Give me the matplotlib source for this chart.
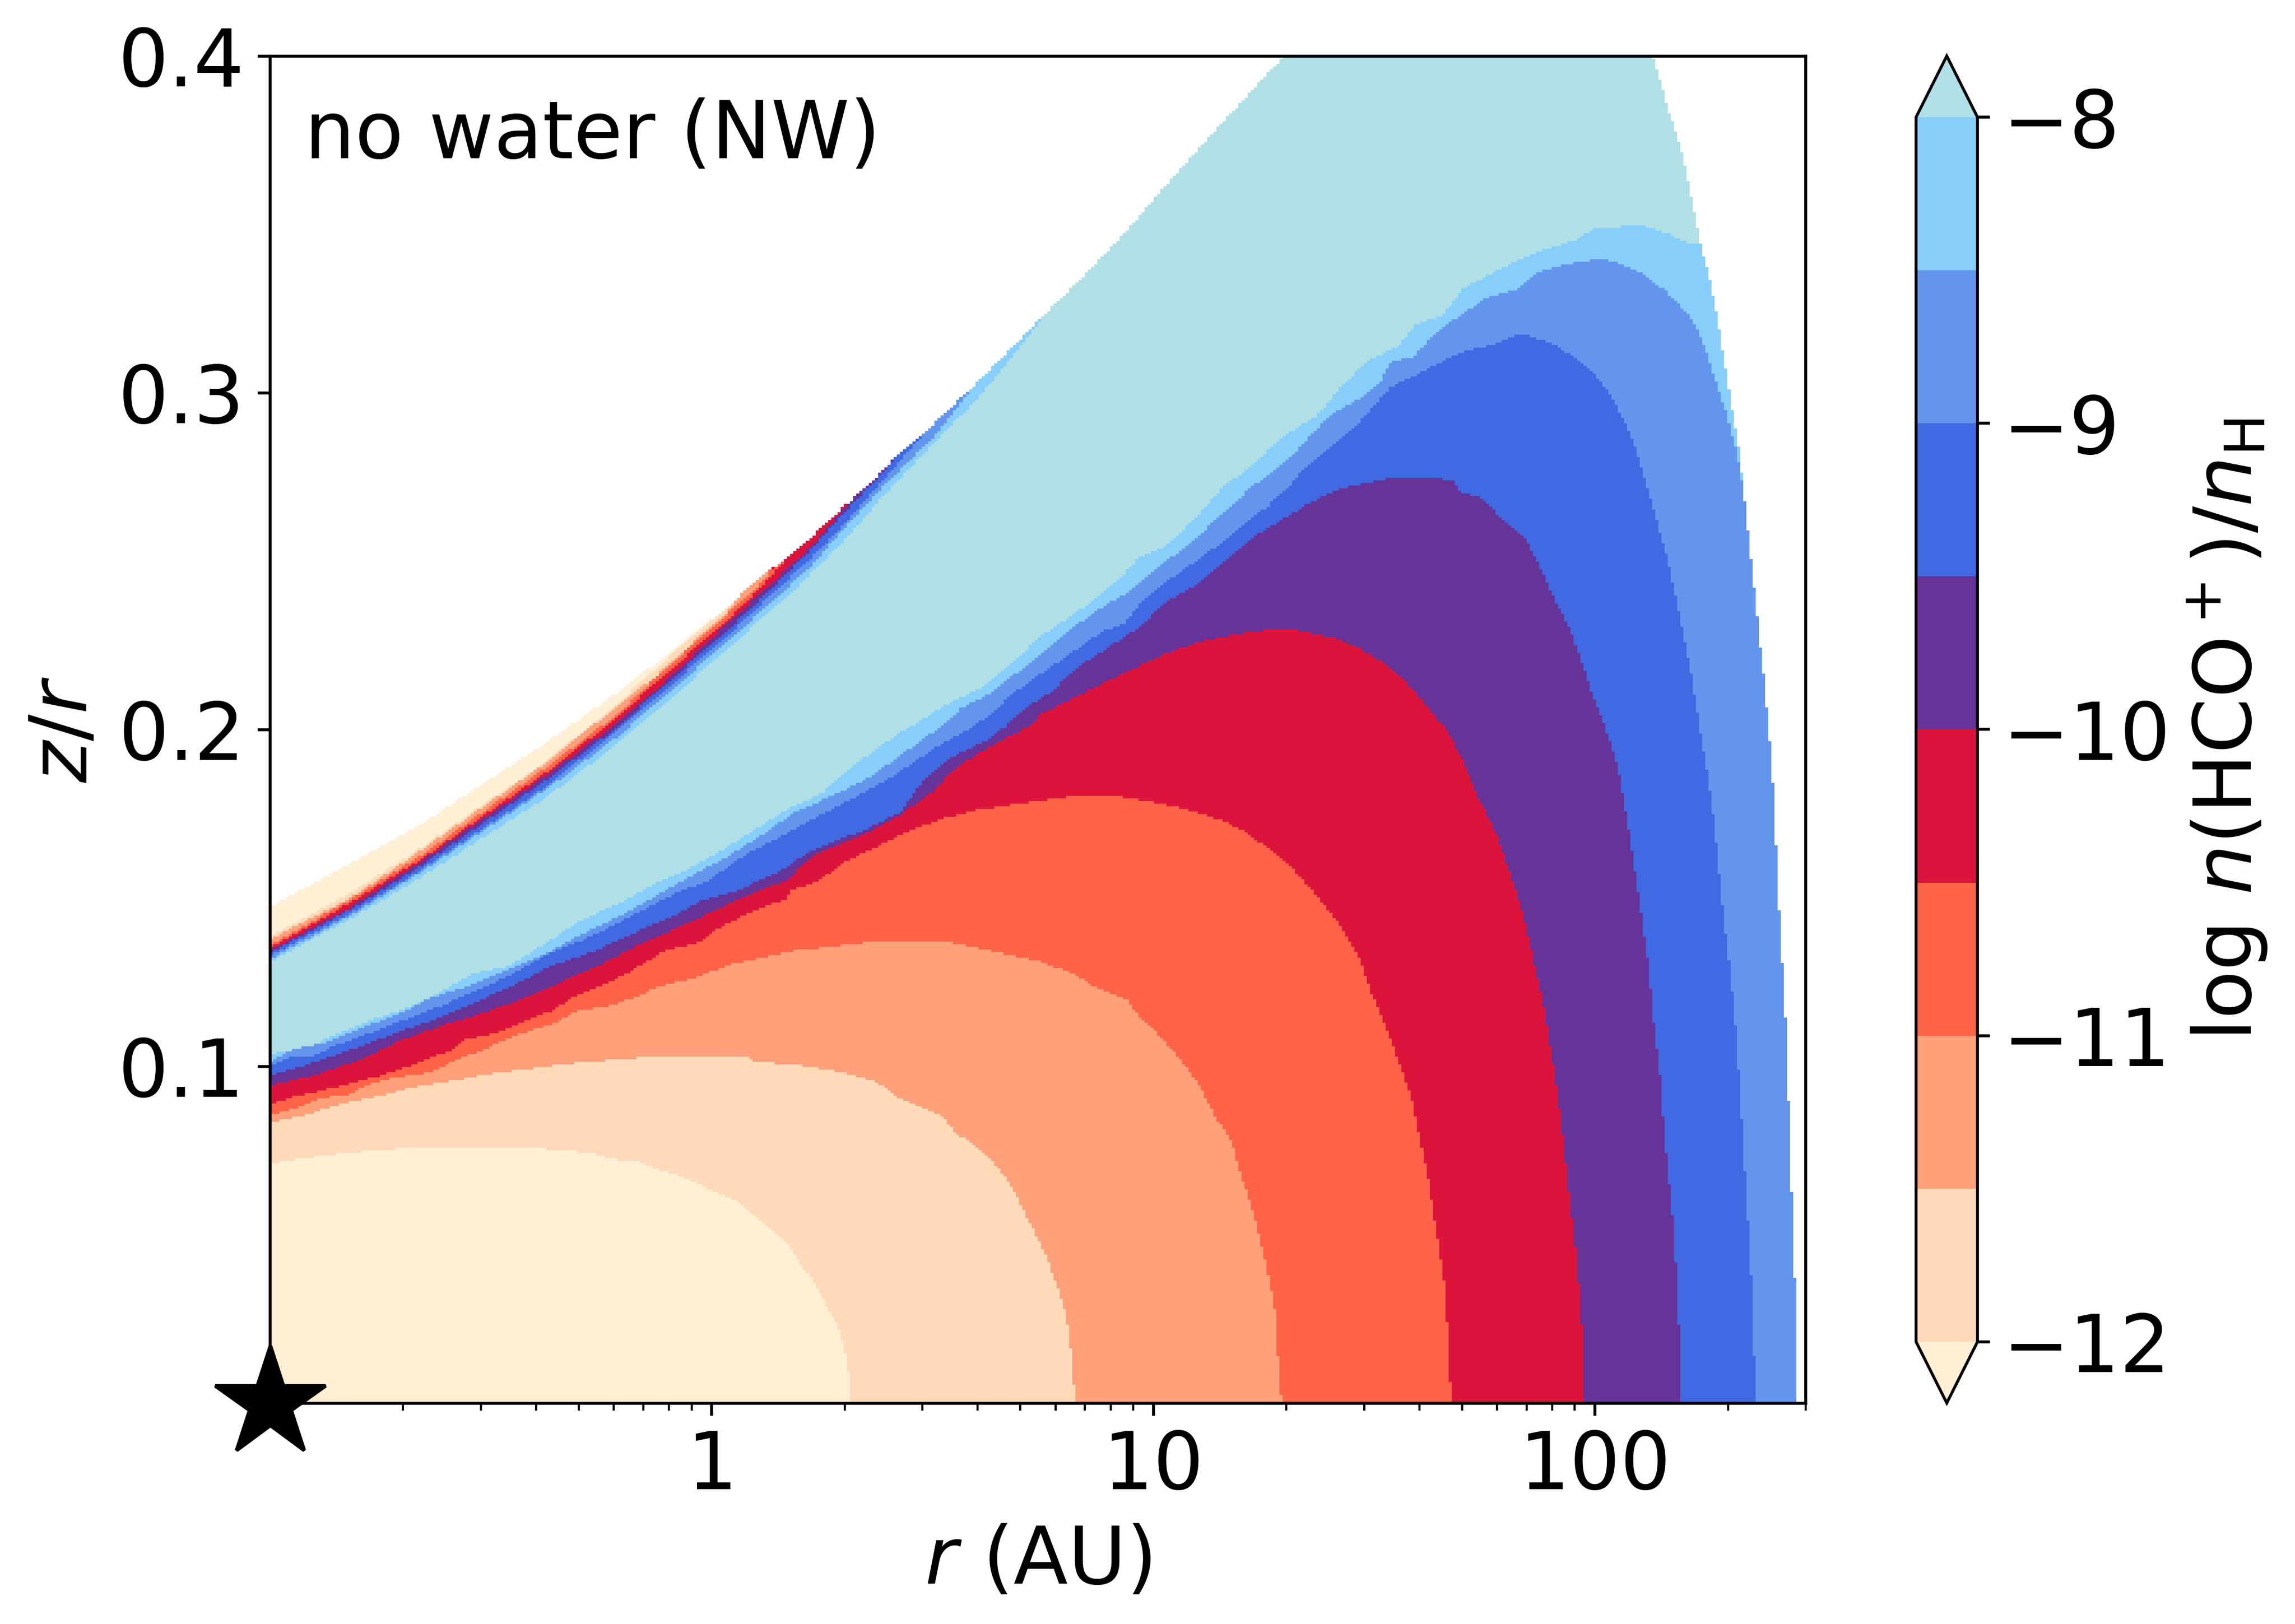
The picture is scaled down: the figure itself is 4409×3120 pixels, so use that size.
import numpy as np
import matplotlib
matplotlib.use("Agg")
import matplotlib.pyplot as plt
from matplotlib.cm import ScalarMappable
from matplotlib.colors import BoundaryNorm, ListedColormap
from matplotlib.path import Path
from matplotlib.ticker import LogLocator, NullFormatter

# contour boundaries: log10(r / AU) and z/r
LEVELS = [-12, -11.5, -11, -10.5, -10, -9.5, -9, -8.5, -8]
TICKS = [-12, -11, -10, -9, -8]
COLORS = ["peachpuff", "lightsalmon", "tomato", "crimson", "rebeccapurple",
          "royalblue", "cornflowerblue", "lightskyblue"]
COLOR_UNDER = "papayawhip"
COLOR_OVER = "powderblue"

# value given to each band
V_PAPAYA, V_PEACH, V_SALMON, V_TOMATO, V_CRIMSON = -12.5, -11.75, -11.25, -10.75, -10.25
V_PURPLE, V_ROYAL, V_CORN, V_SKY, V_POWDER = -9.75, -9.25, -8.75, -8.25, -7.5

XTICKS = [1, 10, 100]
XTICKLABELS = ["1", "10", "100"]
YTICKS = [0.1, 0.2, 0.3, 0.4]
YTICKLABELS = ["0.1", "0.2", "0.3", "0.4"]

# outline of the whole disc
TOP_R = [-1, -0.828, -0.659, -0.3745, -0.2057, -0.131, 0.0377, 0.079, 0.222, 0.293, 0.3125, 0.391,
         0.411, 0.4617, 0.4814, 0.58, 0.662, 0.756, 0.837, 0.905, 0.972, 1.027, 1.087, 1.19, 1.295]
TOP_Z = [0.1473, 0.1594, 0.1717, 0.1962, 0.2117, 0.2192, 0.2367, 0.2416, 0.2568, 0.2656, 0.2676, 0.2772,
         0.2801, 0.2860, 0.2880, 0.3003, 0.3111, 0.3235, 0.3338, 0.3433, 0.3530, 0.3615, 0.3702, 0.3850, 0.4]
EDGE_R = [2.132, 2.162, 2.200, 2.216, 2.230, 2.239, 2.257, 2.277, 2.297, 2.311, 2.328, 2.338, 2.349, 2.362,
          2.372, 2.385, 2.392, 2.399, 2.407, 2.412, 2.420, 2.429, 2.435, 2.441, 2.448, 2.455, 2.455]
EDGE_Z = [0.4, 0.386, 0.3702, 0.3594, 0.3507, 0.3442, 0.3355, 0.3225, 0.3062, 0.2942, 0.2812, 0.2682, 0.2552, 0.2400,
          0.2270, 0.2129, 0.2001, 0.1924, 0.1745, 0.1578, 0.1386, 0.1206, 0.1014, 0.0783, 0.0527, 0.0270, 0.0]

# lower boundaries, outermost first
SKY_R = [-1, -0.917, -0.854, -0.770, -0.707, -0.633, -0.538, -0.465, -0.391, -0.297, -0.202, -0.128, -0.044, 0.030,
         0.114, 0.177, 0.251, 0.283, 0.347, 0.420, 0.490, 0.533, 0.607, 0.675, 0.749, 0.824, 0.912, 0.966, 1.027,
         1.087, 1.155, 1.229, 1.297, 1.371, 1.419, 1.479, 1.554, 1.594, 1.655, 1.702, 1.784, 1.824, 1.885, 1.953,
         2.000, 2.108, 2.162, 2.209, 2.239]
SKY_Z = [0.1038, 0.1052, 0.1094, 0.1138, 0.1166, 0.1207, 0.1277, 0.1297, 0.1352, 0.1432, 0.1487, 0.1542, 0.1591, 0.1646,
         0.1715, 0.1767, 0.1811, 0.1855, 0.1918, 0.1985, 0.2040, 0.2074, 0.2123, 0.2194, 0.2281, 0.2346, 0.2433, 0.2509, 0.2546,
         0.2617, 0.2715, 0.2791, 0.2872, 0.2932, 0.3008, 0.3089, 0.3138, 0.3203, 0.3230, 0.3311, 0.3366, 0.3393, 0.3425, 0.3452,
         0.3490, 0.3496, 0.3474, 0.3447, 0.3442]

CORN_R = [-1, -0.949, -0.870, -0.780, -0.696, -0.644, -0.549, -0.470, -0.365, -0.297, -0.202, -0.123, -0.060, 0.030,
          0.119, 0.182, 0.251, 0.345, 0.441, 0.520, 0.567, 0.628, 0.695, 0.797, 0.864, 0.945, 1.027, 1.087, 1.162,
          1.229, 1.310, 1.398, 1.473, 1.513, 1.540, 1.588, 1.642, 1.689, 1.757, 1.824, 1.865, 1.939, 2.013, 2.047,
          2.108, 2.162, 2.216, 2.243, 2.270, 2.297, 2.318, 2.334]
CORN_Z = [0.1014, 0.1049, 0.1073, 0.1121, 0.1163, 0.1201, 0.1239, 0.1283, 0.1342, 0.1390, 0.1449, 0.1508, 0.1556, 0.1618,
          0.1691, 0.1749, 0.1791, 0.1847, 0.1936, 0.2010, 0.2065, 0.2107, 0.2172, 0.2281, 0.2346, 0.2411, 0.2498, 0.2557, 0.2650,
          0.2725, 0.2807, 0.2932, 0.2986, 0.3029, 0.3094, 0.3105, 0.3181, 0.3225, 0.3284, 0.3306, 0.3355, 0.3382, 0.3398, 0.3387,
          0.3355, 0.3300, 0.3225, 0.3159, 0.3051, 0.2942, 0.2834, 0.2726]

ROYAL_R = [-1, -0.959, -0.907, -0.844, -0.760, -0.675, -0.612, -0.528, -0.454, -0.370, -0.286, -0.191, -0.086, -0.012,
           0.082, 0.151, 0.240, 0.324, 0.392, 0.504, 0.587, 0.639, 0.682, 0.729, 0.837, 0.885, 0.932, 0.972, 1.027,
           1.094, 1.162, 1.202, 1.256, 1.310, 1.337, 1.378, 1.459, 1.486, 1.540, 1.594, 1.655, 1.689, 1.784, 1.831,
           1.899, 1.946, 2.000, 2.034, 2.068, 2.095, 2.129, 2.162, 2.189, 2.216, 2.238, 2.255, 2.272, 2.288, 2.305,
           2.317, 2.328, 2.339, 2.350, 2.358, 2.363]
ROYAL_Z = [0.1000, 0.1025, 0.1031, 0.1066, 0.1107, 0.1149, 0.1180, 0.1228, 0.1273, 0.1335, 0.1377, 0.1439, 0.1511, 0.1549,
           0.1632, 0.1677, 0.1742, 0.1798, 0.1846, 0.1944, 0.2004, 0.2055, 0.2107, 0.2151, 0.2248, 0.2292, 0.2313, 0.2378, 0.2438,
           0.2498, 0.2563, 0.2606, 0.2660, 0.2725, 0.2769, 0.2812, 0.2899, 0.2942, 0.3018, 0.3051, 0.3094, 0.3116, 0.3149, 0.3176,
           0.3149, 0.3111, 0.3051, 0.2997, 0.2910, 0.2823, 0.2671, 0.2519, 0.2357, 0.2183, 0.2001, 0.1873, 0.1706, 0.1488, 0.1296,
           0.1129, 0.0924, 0.0680, 0.0462, 0.0232, 0.0]

PURPLE_R = [-1, -0.917, -0.796, -0.707, -0.622, -0.517, -0.444, -0.360, -0.265, -0.160, -0.097, -0.023, 0.061, 0.156,
            0.235, 0.345, 0.429, 0.477, 0.546, 0.620, 0.661, 0.722, 0.776, 0.824, 0.891, 0.966, 1.027, 1.101, 1.168,
            1.229, 1.283, 1.351, 1.425, 1.540, 1.675, 1.696, 1.743, 1.797, 1.844, 1.878, 1.912, 1.939, 1.966, 1.993,
            2.024, 2.052, 2.069, 2.085, 2.102, 2.119, 2.133, 2.147, 2.159, 2.176, 2.187, 2.196]
PURPLE_Z = [0.0973, 0.1004, 0.1059, 0.1104, 0.1142, 0.1201, 0.1245, 0.1301, 0.1342, 0.1404, 0.1439, 0.1491, 0.1522, 0.1580,
            0.1646, 0.1701, 0.1756, 0.1846, 0.1918, 0.1967, 0.2004, 0.2074, 0.2118, 0.2183, 0.2237, 0.2302, 0.2378, 0.2433, 0.2509,
            0.2574, 0.2617, 0.2671, 0.2715, 0.2747, 0.2742, 0.2704, 0.2687, 0.2617, 0.2563, 0.2476, 0.2378, 0.2313, 0.2216, 0.2107,
            0.2001, 0.1886, 0.1757, 0.1629, 0.1475, 0.1322, 0.1129, 0.0975, 0.0770, 0.0552, 0.0334, 0.0]

CRIMSON_R = [-1, -0.946, -0.895, -0.831, -0.786, -0.707, -0.602, -0.507, -0.423, -0.339, -0.254, -0.160, -0.070, 0.003,
             0.082, 0.166, 0.240, 0.366, 0.429, 0.503, 0.536, 0.594, 0.716, 0.749, 0.824, 0.891, 0.959, 1.027, 1.108,
             1.202, 1.270, 1.331, 1.419, 1.473, 1.527, 1.581, 1.621, 1.663, 1.702, 1.736, 1.776, 1.810, 1.838, 1.860,
             1.883, 1.900, 1.917, 1.930, 1.941, 1.956, 1.964, 1.971, 1.973]
CRIMSON_Z = [0.0943, 0.0959, 0.0976, 0.1004, 0.1025, 0.1076, 0.1125, 0.1163, 0.1204, 0.1252, 0.1301, 0.1363, 0.1415, 0.1459,
             0.1508, 0.1549, 0.1632, 0.1701, 0.1749, 0.1815, 0.1865, 0.1922, 0.2009, 0.2047, 0.2096, 0.2140, 0.2183, 0.2226, 0.2261,
             0.2286, 0.2297, 0.2294, 0.2270, 0.2237, 0.2194, 0.2129, 0.2064, 0.2001, 0.1905, 0.1796, 0.1693, 0.1565, 0.1450, 0.1322,
             0.1193, 0.1052, 0.0911, 0.0770, 0.0629, 0.0462, 0.0334, 0.0206, 0.0]

TOMATO_R = [-1, -0.946, -0.895, -0.850, -0.799, -0.748, -0.710, -0.671, -0.633, -0.588, -0.560, -0.486, -0.444, -0.360,
            -0.323, -0.254, -0.196, -0.144, -0.107, -0.023, 0.003, 0.066, 0.135, 0.166, 0.182, 0.240, 0.303, 0.387,
            0.429, 0.514, 0.598, 0.744, 0.812, 0.925, 0.992, 1.071, 1.150, 1.195, 1.252, 1.308, 1.364, 1.421, 1.466,
            1.494, 1.528, 1.556, 1.584, 1.606, 1.623, 1.640, 1.657, 1.666, 1.674]
TOMATO_Z = [0.0887, 0.0911, 0.0925, 0.0938, 0.0956, 0.0973, 0.0990, 0.1007, 0.1028, 0.1049, 0.1080, 0.1100, 0.1125, 0.1166,
            0.1200, 0.1239, 0.1273, 0.1314, 0.1342, 0.1370, 0.1401, 0.1442, 0.1480, 0.1494, 0.1522, 0.1549, 0.1608, 0.1660,
            0.1687, 0.1732, 0.1760, 0.1789, 0.1800, 0.1800, 0.1786, 0.1764, 0.1732, 0.1706, 0.1655, 0.1597, 0.1514, 0.1424, 0.1322,
            0.1219, 0.1116, 0.1014, 0.0911, 0.0770, 0.0655, 0.0514, 0.0373, 0.0219, 0.0]

SALMON_R = [-1, -0.946, -0.888, -0.818, -0.786, -0.735, -0.633, -0.588, -0.518, -0.444, -0.354, -0.312, -0.223, -0.170,
            -0.118, -0.039, 0.045, 0.093, 0.182, 0.282, 0.345, 0.545, 0.598, 0.744, 0.818, 0.874, 0.942, 0.964, 1.004,
            1.054, 1.105, 1.139, 1.178, 1.195, 1.218, 1.240, 1.257, 1.274, 1.283, 1.290]
SALMON_Z = [0.0856, 0.0873, 0.0904, 0.0918, 0.0942, 0.0963, 0.0983, 0.1014, 0.1049, 0.1094, 0.1128, 0.1163, 0.1183, 0.1207,
            0.1239, 0.1263, 0.1304, 0.1318, 0.1342, 0.1356, 0.1366, 0.1366, 0.1352, 0.1311, 0.1277, 0.1232, 0.1196, 0.1155, 0.1105,
            0.1033, 0.0943, 0.0853, 0.0777, 0.0693, 0.0604, 0.0501, 0.0398, 0.0283, 0.0104, 0.0]

PEACH_R = [-1, -0.939, -0.869, -0.818, -0.735, -0.686, -0.624, -0.550, -0.480, -0.429, -0.339, -0.282, -0.199, -0.128,
           0.076, 0.095, 0.197, 0.293, 0.363, 0.395, 0.427, 0.485, 0.523, 0.549, 0.593, 0.638, 0.670, 0.695, 0.714,
           0.740, 0.759, 0.778, 0.797, 0.810, 0.817, 0.823]
PEACH_Z = [0.0835, 0.0849, 0.0876, 0.0895, 0.0918, 0.0936, 0.0950, 0.0966, 0.0983, 0.0990, 0.1006, 0.1014, 0.1021, 0.1032,
           0.1032, 0.1014, 0.1004, 0.0983, 0.0959, 0.0935, 0.0904, 0.0873, 0.0852, 0.0807, 0.0766, 0.0714, 0.0662, 0.0604, 0.0548,
           0.0486, 0.0431, 0.0362, 0.0293, 0.0203, 0.0107, 0.0]

PAPAYA_R = [-1, -0.939, -0.882, -0.818, -0.771, -0.688, -0.403, -0.326, -0.275, -0.220, -0.167, -0.128, -0.086, -0.039,
            0.006, 0.050, 0.082, 0.127, 0.174, 0.203, 0.229, 0.255, 0.280, 0.299, 0.308, 0.316]
PAPAYA_Z = [0.0711, 0.0724, 0.0735, 0.0743, 0.0750, 0.0757, 0.0757, 0.0750, 0.0742, 0.0724, 0.0717, 0.0697, 0.0680, 0.0655,
            0.0628, 0.0604, 0.0569, 0.0524, 0.0472, 0.0410, 0.0362, 0.0300, 0.0245, 0.0172, 0.0107, 0.0]

# thin surface layer, boundaries named after the colour above them
SURF_SKY_R = [-1, -0.828, -0.659, -0.3745, -0.2057, -0.131, 0.0377, 0.189, 0.222, 0.293, 0.391, 0.5238, 0.60, 0.68, 0.756]
SURF_SKY_Z = [0.1310, 0.1430, 0.1560, 0.1799, 0.1965, 0.2047, 0.2243, 0.2416, 0.2462, 0.2553, 0.2697, 0.2877, 0.2980, 0.3105, 0.3235]
SURF_CORN_R = [-1, -0.828, -0.659, -0.3745, -0.2057, -0.131, 0.0377, 0.167, 0.222, 0.293, 0.391, 0.5096, 0.594]
SURF_CORN_Z = [0.1319, 0.1439, 0.1576, 0.1823, 0.1986, 0.2073, 0.2264, 0.2416, 0.2483, 0.2589, 0.2725, 0.2877, 0.3021]
SURF_ROYAL_R = [-1, -0.828, -0.659, -0.3745, -0.2057, -0.131, 0.0377, 0.1476, 0.222, 0.293, 0.391, 0.4814]
SURF_ROYAL_Z = [0.1328, 0.1446, 0.1583, 0.1831, 0.2006, 0.2088, 0.2282, 0.2416, 0.2506, 0.2602, 0.2743, 0.2880]
SURF_PURPLE_R = [-1, -0.828, -0.659, -0.3745, -0.2057, -0.131, 0.0377, 0.134, 0.222, 0.293, 0.391, 0.411]
SURF_PURPLE_Z = [0.1336, 0.1457, 0.1594, 0.1850, 0.2014, 0.2104, 0.2297, 0.2416, 0.2532, 0.2635, 0.2766, 0.2801]
SURF_CRIMSON_R = [-1, -0.828, -0.659, -0.3745, -0.2057, -0.131, 0.0377, 0.120, 0.222, 0.293, 0.3125]
SURF_CRIMSON_Z = [0.1343, 0.1464, 0.1607, 0.1864, 0.2027, 0.2112, 0.2318, 0.2416, 0.2540, 0.2648, 0.2676]
SURF_TOMATO_R = [-1, -0.828, -0.659, -0.3745, -0.2057, -0.131, 0.0377, 0.1064, 0.178]
SURF_TOMATO_Z = [0.1351, 0.1478, 0.1614, 0.1873, 0.2045, 0.2135, 0.2328, 0.2416, 0.2521]
SURF_SALMON_R = [-1, -0.828, -0.659, -0.3745, -0.2057, -0.131, 0.0377, 0.0985, 0.147]
SURF_SALMON_Z = [0.1359, 0.1486, 0.1625, 0.1887, 0.2053, 0.2149, 0.2346, 0.2416, 0.2488]
SURF_PEACH_R = [-1, -0.828, -0.659, -0.3745, -0.2057, -0.131, 0.0377, 0.06]
SURF_PEACH_Z = [0.1377, 0.1491, 0.1640, 0.1902, 0.2078, 0.2153, 0.2354, 0.2394]
SURF_PAPAYA_R = [-1, -0.828, -0.659, -0.3745, -0.2057, -0.131, 0.02]
SURF_PAPAYA_Z = [0.1385, 0.1506, 0.1648, 0.1906, 0.2086, 0.2176, 0.2349]

DPI = 500
# the model grid shows as small steps along the contour edges
N_R, N_Z = 490, 517
LOGR_MAX = np.log10(300)


def paint(field, centres, px, py, value):
    inside = Path(np.column_stack([px, py])).contains_points(centres)
    field[inside.reshape(field.shape)] = value


def paint_dome(field, centres, logr, z, value, follow_edge=False):
    # area below a boundary, down to the midplane
    px, py = list(logr), list(z)
    if follow_edge:
        keep = np.asarray(EDGE_Z) < py[-1]
        px += list(np.asarray(EDGE_R)[keep])
        py += list(np.asarray(EDGE_Z)[keep])
    px += [px[-1], -1]
    py += [0, 0]
    paint(field, centres, px, py, value)


def paint_surface(field, centres, logr, z, value):
    # area between a boundary and the top of the disc
    keep = np.asarray(TOP_R) < logr[-1]
    px = list(logr) + list(np.asarray(TOP_R)[keep][::-1])
    py = list(z) + list(np.asarray(TOP_Z)[keep][::-1])
    paint(field, centres, px, py, value)


def build_field():
    logr_edges = np.linspace(-1, LOGR_MAX, N_R + 1)
    z_edges = np.linspace(0, 0.4, N_Z + 1)
    lc = 0.5 * (logr_edges[1:] + logr_edges[:-1])
    zc = 0.5 * (z_edges[1:] + z_edges[:-1])
    mx, my = np.meshgrid(lc, zc)
    centres = np.column_stack([mx.ravel(), my.ravel()])
    field = np.full(mx.shape, np.nan)

    # whole disc first, everything else painted on top
    paint(field, centres, TOP_R + EDGE_R + [-1], TOP_Z + EDGE_Z + [0], V_POWDER)

    paint_dome(field, centres, SKY_R, SKY_Z, V_SKY, follow_edge=True)
    paint_dome(field, centres, CORN_R, CORN_Z, V_CORN, follow_edge=True)
    paint_dome(field, centres, ROYAL_R, ROYAL_Z, V_ROYAL)
    paint_dome(field, centres, PURPLE_R, PURPLE_Z, V_PURPLE)
    paint_dome(field, centres, CRIMSON_R, CRIMSON_Z, V_CRIMSON)
    paint_dome(field, centres, TOMATO_R, TOMATO_Z, V_TOMATO)
    paint_dome(field, centres, SALMON_R, SALMON_Z, V_SALMON)
    paint_dome(field, centres, PEACH_R, PEACH_Z, V_PEACH)
    paint_dome(field, centres, PAPAYA_R, PAPAYA_Z, V_PAPAYA)

    paint_surface(field, centres, SURF_SKY_R, SURF_SKY_Z, V_SKY)
    paint_surface(field, centres, SURF_CORN_R, SURF_CORN_Z, V_CORN)
    paint_surface(field, centres, SURF_ROYAL_R, SURF_ROYAL_Z, V_ROYAL)
    paint_surface(field, centres, SURF_PURPLE_R, SURF_PURPLE_Z, V_PURPLE)
    paint_surface(field, centres, SURF_CRIMSON_R, SURF_CRIMSON_Z, V_CRIMSON)
    paint_surface(field, centres, SURF_TOMATO_R, SURF_TOMATO_Z, V_TOMATO)
    paint_surface(field, centres, SURF_SALMON_R, SURF_SALMON_Z, V_SALMON)
    paint_surface(field, centres, SURF_PEACH_R, SURF_PEACH_Z, V_PEACH)
    paint_surface(field, centres, SURF_PAPAYA_R, SURF_PAPAYA_Z, V_PAPAYA)
    return 10.0 ** logr_edges, z_edges, np.ma.masked_invalid(field)


def main():
    fig = plt.figure(figsize=(4409 / DPI, 3120 / DPI), dpi=DPI)
    ax = fig.add_axes([519 / 4409, 424.5 / 3120, 2950 / 4409, 2588 / 3120])

    cmap = ListedColormap(COLORS).with_extremes(under=COLOR_UNDER, over=COLOR_OVER)
    norm = BoundaryNorm(LEVELS, cmap.N)

    r_edges, z_edges, field = build_field()
    ax.pcolormesh(r_edges, z_edges, field, cmap=cmap, norm=norm)

    ax.set_xscale("log")
    ax.set_xlim(0.1, 300)
    ax.set_ylim(0, 0.4)
    ax.set_xticks(XTICKS)
    ax.set_xticklabels(XTICKLABELS)
    ax.xaxis.set_minor_locator(LogLocator(base=10, subs=range(2, 10), numticks=12))
    ax.xaxis.set_minor_formatter(NullFormatter())
    ax.set_yticks(YTICKS)
    ax.set_yticklabels(YTICKLABELS)
    ax.tick_params(labelsize=22)
    ax.set_xlabel(r"$r$ (AU)", fontsize=22, labelpad=4.8)
    ax.set_ylabel(r"$z/r$", fontsize=22)

    ax.text(0.0225, 0.924, "no water (NW)", transform=ax.transAxes, fontsize=22, va="baseline")
    ax.plot([0.1], [0], marker="*", color="k", ms=32, clip_on=False, zorder=10)

    cax = fig.add_axes([3681 / 4409, 424.5 / 3120, 118 / 4409, 2588 / 3120])
    cbar = fig.colorbar(ScalarMappable(norm=norm, cmap=cmap), cax=cax, extend="both",
                        ticks=TICKS, spacing="proportional")
    cbar.ax.minorticks_off()
    cbar.ax.tick_params(labelsize=22)
    cbar.set_label(r"log $n(\mathrm{HCO}^+)/n_\mathrm{H}$", fontsize=22)

    fig.savefig("out.png", dpi=DPI)


if __name__ == "__main__":
    main()
